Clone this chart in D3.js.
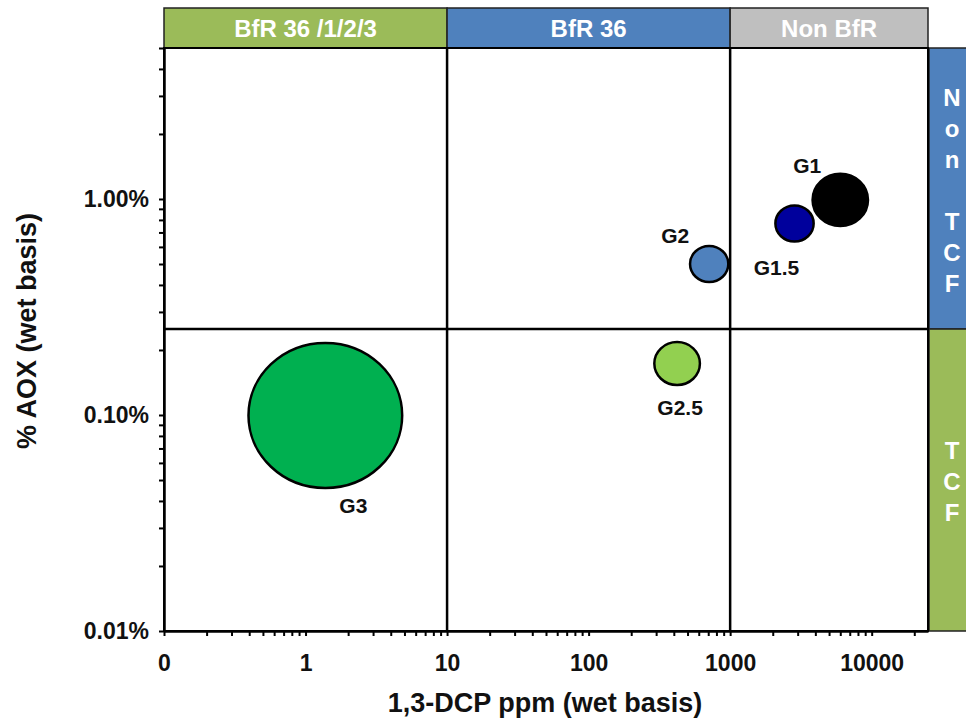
<!DOCTYPE html>
<html>
<head>
<meta charset="utf-8">
<script src="https://cdn.jsdelivr.net/npm/d3@7/dist/d3.min.js"></script>
<style>
  html, body { margin: 0; padding: 0; background: #fff; }
  svg { display: block; font-family: "Liberation Sans", Arial, sans-serif; }
</style>
</head>
<body>
<svg id="chart" width="966" height="723"></svg>
<script>
// ---- data ----
const groups = ["G1", "G1.5", "G2", "G2.5", "G3"];
const dcpPpm = [6000, 2850, 711, 422, 1.38];          // 1,3-DCP ppm (wet basis)
const aoxFrac = [0.0099, 0.0077, 0.0050, 0.00173, 0.000995]; // % AOX as fraction
const bubbleSize = [13, 6.2, 6.2, 8.8, 100];
const bubbleColors = ["#000000", "#00009C", "#4F81BD", "#92D050", "#00B050"];

const xTickValues = [0.1, 1, 10, 100, 1000, 10000];
const xTickLabels = ["0", "1", "10", "100", "1000", "10000"];
const yTickValues = [0.0001, 0.001, 0.01];
const yTickLabels = ["0.01%", "0.10%", "1.00%"];

const xDividers = [10, 1000];
const yDividers = [0.0025];

const topBands = ["BfR 36 /1/2/3", "BfR 36", "Non BfR"];
const topBandFrom = [0.1, 10, 1000];
const topBandTo = [10, 1000, 25000];
const topBandColors = ["#9BBB59", "#4F81BD", "#BFBFBF"];

const sideBands = ["Non TCF", "TCF"];
const sideBandFrom = [0.05, 0.0025];
const sideBandTo = [0.0025, 0.0001];
const sideBandColors = ["#4F81BD", "#9BBB59"];

// label placement (layout, relative to bubble centre)
const labelDx = [-33, -18, -34, 3, 28];
const labelDy = [-35, 43, -29, 43, 90];

// ---- layout ----
const svg = d3.select("#chart");
const x = d3.scaleLog().domain([0.1, 25000]).range([164, 928]);
const y = d3.scaleLog().domain([0.0001, 0.05]).range([631, 48]);
const r = d3.scaleSqrt().domain([0, 100]).range([0, 72.5]);
const aspect = 1.06;

// top header bands
const hdr = svg.append("g");
topBands.forEach((t, i) => {
  const x0 = x(topBandFrom[i]), x1 = x(topBandTo[i]);
  hdr.append("rect").attr("x", x0).attr("y", 8).attr("width", x1 - x0).attr("height", 40)
    .attr("fill", topBandColors[i]).attr("stroke", "#222").attr("stroke-width", 1.5);
  hdr.append("text").attr("x", (x0 + x1) / 2).attr("y", 37)
    .attr("text-anchor", "middle").attr("fill", "#fff")
    .attr("font-size", 24).attr("font-weight", "bold").text(t);
});

// side bands
const side = svg.append("g");
sideBands.forEach((t, i) => {
  const y0 = y(sideBandFrom[i]), y1 = y(sideBandTo[i]);
  side.append("rect").attr("x", 929).attr("y", y0).attr("width", 50).attr("height", y1 - y0)
    .attr("fill", sideBandColors[i]).attr("stroke", "#222").attr("stroke-width", 1.5);
  const chars = t.split("");
  const step = 31;
  const mid = (y0 + y1) / 2;
  const startY = mid - (chars.length - 1) * step / 2 + 10;
  chars.forEach((c, k) => {
    if (c === " ") return;
    side.append("text").attr("x", 952).attr("y", startY + k * step)
      .attr("text-anchor", "middle").attr("fill", "#fff")
      .attr("font-size", 24).attr("font-weight", "bold").text(c);
  });
});

// plot frame
svg.append("rect").attr("x", x.range()[0]).attr("y", y.range()[1])
  .attr("width", x.range()[1] - x.range()[0]).attr("height", y.range()[0] - y.range()[1])
  .attr("fill", "#fff").attr("stroke", "#000").attr("stroke-width", 2);

// dividers
xDividers.forEach(v => {
  svg.append("line").attr("x1", x(v)).attr("x2", x(v)).attr("y1", y.range()[1]).attr("y2", y.range()[0])
    .attr("stroke", "#000").attr("stroke-width", 2.5);
});
yDividers.forEach(v => {
  svg.append("line").attr("x1", x.range()[0]).attr("x2", x.range()[1]).attr("y1", y(v)).attr("y2", y(v))
    .attr("stroke", "#000").attr("stroke-width", 2.5);
});

// axes
const xAxis = d3.axisBottom(x)
  .tickValues(x.ticks())
  .tickSize(5).tickSizeOuter(0)
  .tickFormat(d => { const k = xTickValues.findIndex(v => Math.abs(v - d) / v < 1e-6); return k >= 0 ? xTickLabels[k] : ""; });
const gx = svg.append("g").attr("transform", `translate(0,${y.range()[0]})`).call(xAxis);
gx.select(".domain").attr("stroke", "#000").attr("stroke-width", 2.5);
gx.selectAll(".tick line").attr("stroke", "#000").attr("stroke-width", 2);
gx.selectAll(".tick text").attr("font-size", 23).attr("font-weight", "bold").attr("fill", "#111")
  .attr("dy", 0).attr("y", 40).attr("font-family", "Liberation Sans, Arial, sans-serif");

const yAxis = d3.axisLeft(y)
  .tickValues(y.ticks())
  .tickSize(5).tickSizeOuter(0)
  .tickFormat(d => { const k = yTickValues.findIndex(v => Math.abs(v - d) / v < 1e-6); return k >= 0 ? yTickLabels[k] : ""; });
const gy = svg.append("g").attr("transform", `translate(${x.range()[0]},0)`).call(yAxis);
gy.select(".domain").attr("stroke", "#000").attr("stroke-width", 2.5);
gy.selectAll(".tick line").attr("stroke", "#000").attr("stroke-width", 2);
gy.selectAll(".tick text").attr("font-size", 23).attr("font-weight", "bold").attr("fill", "#111")
  .attr("x", -15).attr("font-family", "Liberation Sans, Arial, sans-serif");

// axis titles
svg.append("text").attr("x", 545).attr("y", 712).attr("text-anchor", "middle")
  .attr("font-size", 27).attr("font-weight", "bold").attr("fill", "#111")
  .text("1,3-DCP ppm (wet basis)");
svg.append("text").attr("transform", "translate(36,331) rotate(-90)").attr("text-anchor", "middle")
  .attr("font-size", 27).attr("font-weight", "bold").attr("fill", "#111")
  .text("% AOX (wet basis)");

// bubbles
const bubbles = svg.append("g");
groups.forEach((g, i) => {
  const cx = x(dcpPpm[i]), cy = y(aoxFrac[i]), rr = r(bubbleSize[i]);
  bubbles.append("ellipse").attr("cx", cx).attr("cy", cy)
    .attr("rx", rr * aspect).attr("ry", rr)
    .attr("fill", bubbleColors[i]).attr("stroke", "#000").attr("stroke-width", 2.5);
});
groups.forEach((g, i) => {
  const cx = x(dcpPpm[i]), cy = y(aoxFrac[i]);
  bubbles.append("text").attr("x", cx + labelDx[i]).attr("y", cy + labelDy[i] + 8)
    .attr("text-anchor", "middle").attr("font-size", 21).attr("font-weight", "bold").attr("fill", "#111")
    .text(g);
});
</script>
</body>
</html>
